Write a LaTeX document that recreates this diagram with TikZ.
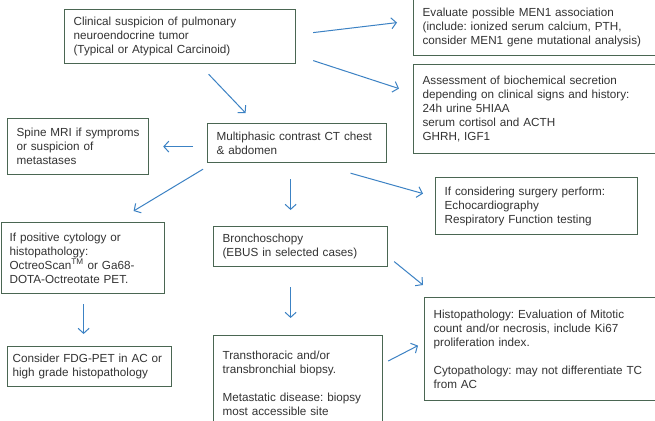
\documentclass[tikz,border=0pt]{standalone}
\usepackage{fontspec}
\setmainfont{Liberation Sans}
\usetikzlibrary{arrows.meta}
\definecolor{boxline}{HTML}{4A6652}
\definecolor{arrblue}{HTML}{3C82C4}
\definecolor{txt}{HTML}{333333}
\frenchspacing
\begin{document}
\begin{tikzpicture}[x=1pt,y=-1pt,
  box/.style={draw=boxline,line width=1.2pt,inner xsep=9pt,inner ysep=0pt,
    align=left,text=txt,font=\fontsize{11.7}{14}\selectfont\frenchspacing},
  arr/.style={draw=arrblue,line width=1pt,-{Straight Barb[length=5pt,width=11pt]}}]
\useasboundingbox[fill=white] (0,0) rectangle (655,420);
\newcommand\mkbox[7][9]{%
  \node[box,anchor=north west,inner xsep=#1pt,minimum width=#5-#3,minimum height=#6-#4,
    text width=#5-#3-2*#1] (#2) at (#3,#4) {#7};}
\mkbox{clin}{64}{9}{295}{63}{Clinical suspicion of pulmonary\\neuroendocrine tumor\\(Typical or Atypical Carcinoid)}
\mkbox{men}{413}{-2}{665}{55}{Evaluate possible MEN1 association\\(include: ionized serum calcium, PTH,\\consider MEN1 gene mutational analysis)}
\mkbox{assess}{413}{64}{665}{153}{Assessment of biochemical secretion\\depending on clinical signs and history:\\24h urine 5HIAA\\serum cortisol and ACTH\\GHRH, IGF1}
\mkbox{spine}{7}{118}{148}{174}{Spine MRI if symproms\\or suspicion of\\metastases}
\mkbox{ct}{207}{123}{386}{162}{Multiphasic contrast CT chest\\\& abdomen}
\mkbox{surg}{435}{177}{637}{234}{If considering surgery perform:\\Echocardiography\\Respiratory Function testing}
\mkbox[8]{pos}{1}{222}{164}{293}{If positive cytology or\\histopathology:\\OctreoScan\textsuperscript{TM} or Ga68-\\DOTA-Octreotate PET.}
\mkbox{bron}{213}{226}{387}{266}{Bronchoschopy\\(EBUS in selected cases)}
\mkbox[5]{fdg}{7}{346}{171}{386}{Consider FDG-PET in AC or\\high grade histopathology}
\mkbox{trans}{213}{335}{382}{430}{Transthoracic and/or\\transbronchial biopsy.\\[14pt]Metastatic disease: biopsy\\most accessible site}
\mkbox{histo}{424}{297}{665}{400}{Histopathology: Evaluation of Mitotic\\count and/or necrosis, include Ki67\\proliferation index.\\[14pt]Cytopathology: may not differentiate TC\\from AC}
\draw[arr] ([shift={(17,-4)}]clin.east) -- ([shift={(-16,-4.5)}]men.west);
\draw[arr] ([shift={(17,24)}]clin.east) -- ([shift={(-14,-20.5)}]assess.west);
\draw[arr] ([shift={(28.5,10)}]clin.south) -- ([shift={(-51.5,-10)}]ct.north);
\draw[arr] ([shift={(-14,3.5)}]ct.west) -- ([shift={(14,0)}]spine.east);
\draw[arr] ([shift={(-4,6)}]ct.south west) -- ([shift={(50.5,-11)}]pos.north);
\draw[arr] ([shift={(-6.5,16)}]ct.south) -- ([shift={(-10,-16)}]bron.north);
\draw[arr] ([shift={(53.5,10)}]ct.south) -- ([shift={(-12,-12.5)}]surg.west);
\draw[arr] ([shift={(0.5,10)}]pos.south) -- ([shift={(-6,-12)}]fdg.north);
\draw[arr] ([shift={(-10,20)}]bron.south) -- ([shift={(-7.5,-17)}]trans.north);
\draw[arr] ([shift={(6,15)}]bron.east) -- ([shift={(-1,-12)}]histo.north west);
\draw[arr] ([shift={(5,26)}]trans.north east) -- ([shift={(-6,-3.5)}]histo.west);
\end{tikzpicture}
\end{document}
